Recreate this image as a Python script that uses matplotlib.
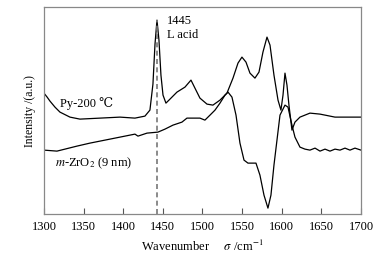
import matplotlib.pyplot as plt

# === DATA ===
wn_py = [1300, 1304, 1307.6, 1313.9, 1320.2, 1332.8, 1345.4, 1370.7, 1395.9, 1414.8, 1427.4,
         1433.7, 1437.5, 1440.1, 1442.6, 1445.1, 1447.6, 1450.2, 1453.9, 1459, 1467.8,
         1477.9, 1485.5, 1490.5, 1496.8, 1505.7, 1513.2, 1522.1, 1530.9, 1538.5, 1544.8,
         1549.8, 1554.9, 1559.9, 1566.2, 1571.3, 1576.3, 1581.4, 1585.2, 1590.2, 1595.3,
         1599, 1601.6, 1604.1, 1606.6, 1609.1, 1612.9, 1616.7, 1623, 1635.6, 1648.3,
         1667.2, 1700]
int_py = [121, 117, 113, 107, 102, 97, 95, 96, 97, 96, 98,
          104, 130, 170, 194, 174, 139, 119, 111, 115, 122,
          127, 134, 126, 116, 110, 109, 114, 121, 136, 151,
          157, 152, 141, 136, 142, 162, 177, 169, 139, 114,
          104, 119, 141, 129, 109, 84, 92, 97, 101, 100,
          97, 97]

wn_zr = [1300, 1316.4, 1326.5, 1341.6, 1358, 1383.3, 1408.5, 1414.8, 1418.6, 1430,
         1443.8, 1452.7, 1462.8, 1474.1, 1480.4, 1490.5, 1496.8, 1503.1, 1509.5, 1515.8,
         1522.1, 1528.4, 1532.2, 1537.2, 1542.3, 1547.3, 1552.4, 1557.4, 1567.5, 1572.5,
         1577.6, 1582.6, 1586.4, 1590.2, 1594, 1597.8, 1604.1, 1607.9, 1612.9, 1616.7,
         1623, 1629.3, 1635.6, 1642, 1648.3, 1654.6, 1660.9, 1667.2, 1673.5, 1679.8,
         1686.1, 1692.4, 1700]
int_zr = [64, 63, 65, 68, 71, 75, 79, 80, 78, 81,
          82, 85, 89, 92, 96, 96, 96, 94, 99, 104,
          111, 119, 122, 117, 99, 71, 54, 51, 51, 39,
          19, 6, 19, 49, 74, 99, 109, 107, 89, 77,
          67, 65, 64, 66, 63, 65, 63, 65, 64, 66,
          64, 66, 64]

xticks = [1300, 1350, 1400, 1450, 1500, 1550, 1600, 1650, 1700]
peak_pos = 1443

# === PLOT ===
plt.rcParams['font.family'] = ['Liberation Serif', 'DejaVu Serif']
plt.rcParams['mathtext.fontset'] = 'stix'

fig = plt.figure(figsize=(3.89, 2.54), dpi=100)
ax = fig.add_axes([0.113, 0.157, 0.815, 0.815])

ax.plot(wn_py, int_py, color='black', lw=0.9)
ax.plot(wn_zr, int_zr, color='black', lw=0.9)
ax.plot([peak_pos, peak_pos], [0, 194], color='#777777', lw=1.2, ls=(0, (3, 2)))

ax.text(1455, 186, '1445\nL acid', fontsize=9, va='center', ha='left', linespacing=1.15)
ax.text(1320, 111, 'Py-200 \u2103', fontsize=9, va='center', ha='left')
ax.text(1314, 51, '$\\mathit{m}$-ZrO$_2$ (9 nm)', fontsize=9, va='center', ha='left')

ax.set_xlim(1300, 1700)
ax.set_ylim(0, 207)
ax.set_xticks(xticks)
ax.set_yticks([])
ax.tick_params(axis='x', direction='in', length=4, labelsize=9, pad=5, color='#555555')
for s in ax.spines.values():
    s.set_color('#888888')
    s.set_linewidth(0.9)

ax.set_xlabel('Wavenumber     $\\sigma$ /cm$^{-1}$', fontsize=9, labelpad=4)
ax.set_ylabel('Intensity /(a.u.)', fontsize=8.5, labelpad=6)

fig.savefig('out.png', dpi=100)
